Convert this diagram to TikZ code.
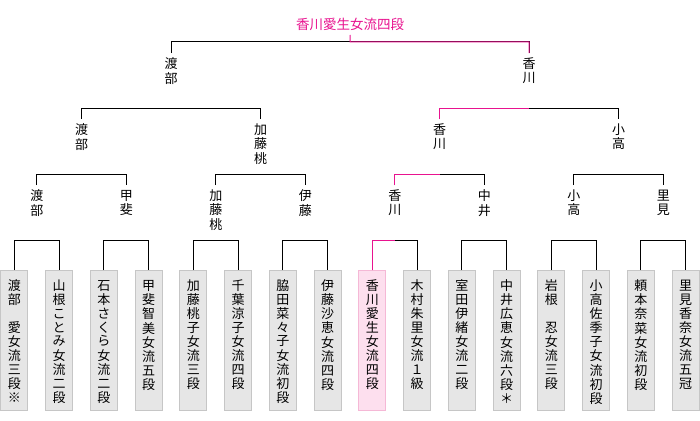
\documentclass[tikz,border=0pt]{standalone}
\usepackage{fontspec}
\setmainfont{Noto Sans CJK JP}
\usepackage{xcolor}
\usepackage{tikz}
\usetikzlibrary{calc}
\definecolor{winPink}{HTML}{E8138F}
\definecolor{leafFill}{HTML}{E6E6E6}
\definecolor{leafLine}{HTML}{C6C6C6}
\definecolor{winFill}{HTML}{FDDFEE}
\definecolor{winLine}{HTML}{F5B8D6}
% one character per line, top to bottom
\newcommand{\tate}[1]{\vtop{\offinterlineskip\expandafter\tatenext#1\relax}}
\def\tatenext#1{\ifx#1\relax\else\hbox to 13pt{\hss\vrule height 10.5pt depth 3.25pt width 0pt\relax#1\hss}\expandafter\tatenext\fi}
\begin{document}
\begin{tikzpicture}[x=1pt, y=-1pt, line width=1pt, font=\fontsize{13}{13.75}\selectfont]
    \tikzset{leaf/.style={draw=leafLine,fill=leafFill,anchor=north,minimum width=27pt,inner sep=0pt,text height=20pt,text depth=120pt}, winleaf/.style={leaf,draw=winLine,fill=winFill}, lbl/.style={anchor=north,inner xsep=0pt,inner ysep=4.5pt}, win/.style={draw=winPink}}
    \useasboundingbox (0,0) rectangle (700,420);
    \foreach \who/\sty [count=\i] in {渡部　愛女流三段※/leaf, 山根ことみ女流二段/leaf, 石本さくら女流二段/leaf, 甲斐智美女流五段/leaf, 加藤桃子女流三段/leaf, 千葉涼子女流四段/leaf, 脇田菜々子女流初段/leaf, 伊藤沙恵女流四段/leaf, 香川愛生女流四段/winleaf, 木村朱里女流１級/leaf, 室田伊緒女流二段/leaf, 中井広恵女流六段＊/leaf, 岩根　忍女流三段/leaf, 小高佐季子女流初段/leaf, 頼本奈菜女流初段/leaf, 里見香奈女流五冠/leaf}
      \node[\sty] (l\i) at ({14.4+44.75*(\i-1)},270) {\tate{\who}};
    \foreach \who/\p/\q [count=\k] in {渡部/1/2, 甲斐/3/4, 加藤桃/5/6, 伊藤/7/8, 香川/9/10, 中井/11/12, 小高/13/14, 里見/15/16} {
      \draw (l\p.north) -- ++(0,-30) -| (l\q.north);
      \node[lbl] (a\k) at ($(l\p.north)!.5!(l\q.north)+(0,-85)$) {\tate{\who}};
    }
    \foreach \who/\p/\q [count=\k] in {渡部/1/2, 加藤桃/3/4, 香川/5/6, 小高/7/8} {
      \draw (a\p.north) -- ++(0,-11) -| (a\q.north);
      \node[lbl] (b\k) at ($(a\p.north)!.5!(a\q.north)+(0,-66)$) {\tate{\who}};
    }
    \foreach \who/\p/\q [count=\k] in {渡部/1/2, 香川/3/4} {
      \draw (b\p.north) -- ++(0,-11) -| (b\q.north);
      \node[lbl] (c\k) at ($(b\p.north)!.5!(b\q.north)+(0,-66)$) {\tate{\who}};
    }
    \node[anchor=south,inner sep=3.5pt,text=winPink,font=\fontsize{13.5}{14}\selectfont] (top) at (350,35) {香川愛生女流四段};
    \draw (c1.north) -- ++(0,-11) -| (c2.north);
    % winning path
    \draw[win] (l9.north) -- ++(0,-30) -- ($(l9.north)!.5!(l10.north)+(0,-30)$);
    \draw[win] (a5.north) -- ++(0,-11) -- ($(a5.north)!.5!(a6.north)+(0,-11)$);
    \draw[win] (b3.north) -- ++(0,-11) -- ($(b3.north)!.5!(b4.north)+(0,-11)$);
    \draw[win] (c2.north) -- ++(0,-11) -- ($(c1.north)!.5!(c2.north)+(0,-11)$) -- (top.south);
  \end{tikzpicture}
\end{document}
